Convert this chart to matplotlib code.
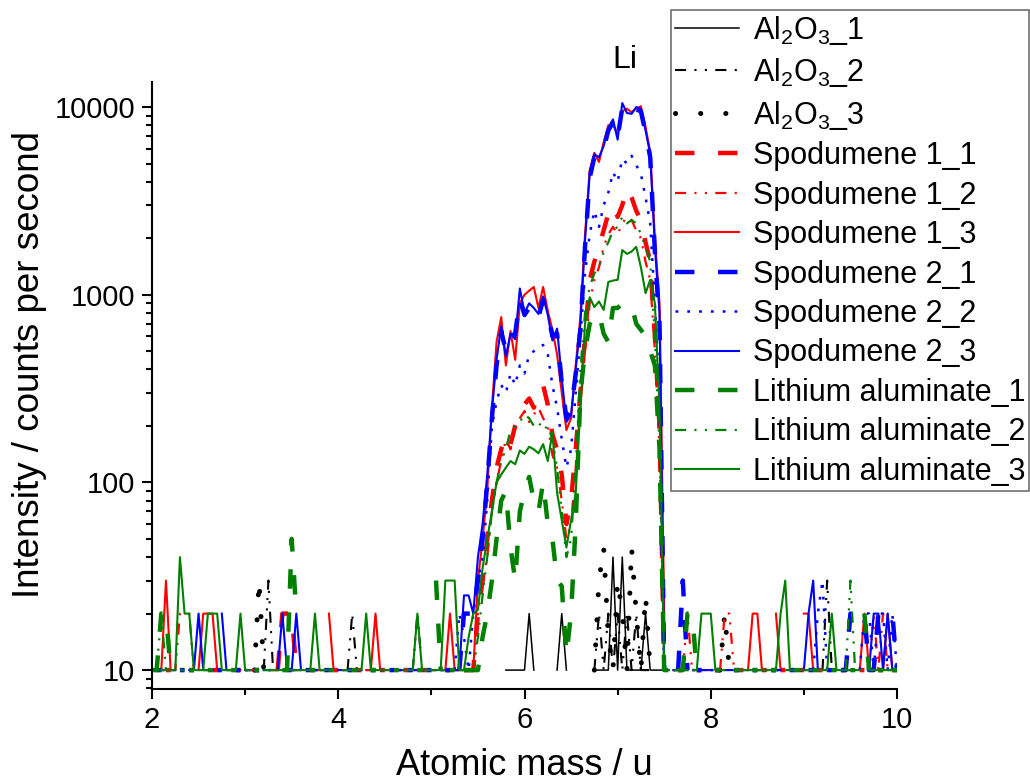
import numpy as np
import matplotlib
matplotlib.use("Agg")
import matplotlib.pyplot as plt
from matplotlib.ticker import FixedLocator, MultipleLocator, LogLocator, NullFormatter

plt.rcParams['font.family'] = ['Liberation Sans', 'DejaVu Sans']
plt.rcParams['mathtext.fontset'] = 'custom'
plt.rcParams['mathtext.rm'] = 'Liberation Sans'
plt.rcParams['mathtext.default'] = 'regular'
plt.rcParams['lines.scale_dashes'] = False

# mass axis, 0.05 u steps from 2 to 10
mass = np.linspace(2, 10, 161)

# counts per second (0 = no counts, not drawn on log axis)
al2o3_1 = [
    0,0,10,0,0,0,0,0,0,0, 0,0,0,10,0,0,0,0,0,0,
    0,0,0,0,0,0,0,0,10,0, 0,0,0,0,0,0,0,0,0,0,
    0,0,0,0,0,10,0,0,0,0, 0,0,0,0,0,0,0,0,0,0,
    0,0,0,0,0,0,0,0,0,0, 0,0,0,0,0,0,10,10,10,10,
    10,20,10,0,0,0,0,10,20,10, 0,0,0,0,0,10,10,10,10,40,
    10,40,10,10,10,10,20,10,10,10, 10,10,0,0,0,0,0,0,0,0,
    0,0,0,0,0,0,0,0,0,0, 0,0,0,0,0,0,0,0,0,0,
    0,0,0,0,0,0,0,0,0,0, 0,0,0,0,0,0,0,0,0,0,0,
]
al2o3_2 = [
    0,0,0,0,0,0,0,0,0,0, 0,0,0,0,0,0,0,0,0,0,
    0,0,0,0,10,30,10,0,0,0, 0,0,0,0,0,0,0,0,0,0,
    0,0,10,20,10,0,0,0,0,0, 0,0,0,0,0,0,10,20,10,0,
    0,0,0,0,0,0,0,0,0,0, 0,0,0,0,0,0,0,0,0,0,
    0,0,0,0,0,0,0,0,0,0, 0,0,0,0,0,10,20,10,20,10,
    20,10,20,10,20,10,10,10,10,0, 0,0,0,0,0,0,0,0,0,0,
    0,0,0,0,0,0,0,0,0,0, 0,0,0,0,0,0,0,0,0,0,
    0,0,0,0,10,30,10,0,0,0, 0,0,0,0,0,0,0,0,0,0,0,
]
al2o3_3 = [
    0,0,0,0,0,0,0,0,0,0, 0,0,0,0,0,0,0,0,0,0,
    0,0,10,30,10,0,0,0,0,0, 0,0,0,0,0,0,0,0,0,0,
    0,0,0,0,0,0,0,0,0,0, 0,0,0,0,0,0,0,0,0,0,
    0,0,0,0,0,0,0,0,0,0, 0,0,0,0,0,0,0,0,0,0,
    0,0,0,0,0,0,0,0,0,0, 0,0,0,0,0,10,30,45,15,10,
    30,20,10,45,20,10,25,10,0,0, 0,0,0,0,0,0,0,0,0,0,
    0,0,10,20,10,0,0,0,0,0, 0,0,0,0,0,0,0,0,0,0,
    0,0,0,0,0,0,0,0,0,0, 0,0,0,0,0,0,0,0,0,0,0,
]
spod1_1 = [
    10,0,0,10,10,0,0,0,10,10, 0,0,0,10,10,0,0,0,10,10,
    0,0,10,10,0,0,0,10,20,20, 20,10,0,0,10,10,0,0,0,10,
    10,0,0,0,10,10,0,0,0,10, 10,0,0,0,10,10,0,0,10,10,
    0,0,0,10,10,0,0,10, 10,10,20,30,50,80,120,150,180,160,200,230,
    260,280,250,300,330,260,180,150,110,60, 80,150,300,600,1200,1500,1800,2200,2700,3000,
    2600,3000,3700,3300,2800,2500,1900,1500,600,200, 10,0,0,10,10,0,0,10,10,0,
    0,10,10,0,0,0,10,10,0,0, 0,10,10,0,0,10,10,0,0,10,
    10,0,0,10,10,0,0,0,10,10, 0,0,10,10,0,0,10,10,0,10,10,
]
spod1_2 = [
    0,10,10,0,10,10,20,20,20,10, 0,0,10,10,0,0,0,10,10,0,
    0,10,10,0,0,0,10,10,0,0, 0,10,10,0,0,0,10,10,0,0,
    0,10,10,0,0,0,10,10,0,0, 0,10,10,0,0,0,10,10,0,0,
    10,10,0,0,0,10,10,0, 10,10,20,30,40,70,100,130,170,150,200,220,
    240,210,230,250,220,200,140,120,80,50, 60,120,250,500,900,1200,1400,1800,2100,2300,
    2100,2400,2600,2500,2200,2000,1500,1200,500,150, 10,10,0,10,10,20,10,0,0,0,
    0,0,10,20,20,10,0,0,0,0, 10,10,0,0,0,10,10,0,0,0,
    10,10,0,0,0,10,10,0,0,0, 10,10,0,0,10,20,10,20,10,0,0,
]
spod1_3 = [
    10,10,10,30,10,0,0,10,0,0, 10,20,20,20,10,10,0,0,10,10,
    0,10,10,0,0,0,10,10,0,0, 10,10,0,0,0,10,10,0,20,10,
    0,0,10,10,0,0,10,10,20,10, 10,10,0,0,0,10,10,0,0,10,
    10,0,10,10,20,10,10,10, 10,10,30,50,90,250,560,760,420,640,450,900,
    1000,1050,1100,850,1100,820,650,480,300,190, 220,420,760,2100,4600,5700,5100,6500,8000,8000,
    7200,9500,9800,9400,9800,10100,7800,5800,2000,900, 20,0,10,10,10,0,0,10,10,10,
    0,10,10,0,0,10,10,0,10,20, 20,10,10,0,20,10,0,10,10,0,
    20,20,10,10,0,10,10,0,10,10, 0,0,10,20,10,10,0,10,20,10,10,
]
spod2_1 = [
    0,10,10,0,0,0,10,10,0,0, 10,0,0,0,10,10,0,0,10,10,
    0,0,10,10,0,0,10,0,0,10, 10,0,0,10,10,0,0,10,10,0,
    0,0,10,10,0,0,0,10,10,0, 0,10,10,0,0,10,10,0,0,10,
    10,0,0,10,10,0,10,20, 20,20,30,50,100,220,420,640,500,600,620,950,
    780,850,880,760,940,800,600,620,340,220, 240,380,650,1800,4200,5400,5300,6000,7500,8300,
    6900,9900,9000,9300,9700,9500,7300,5400,1700,700, 10,0,0,10,30,10,0,10,10,0,
    0,10,10,0,0,10,10,0,0,10, 10,0,0,10,10,0,0,10,10,0,
    0,10,10,0,0,10,10,0,10,10, 20,20,20,20,10,10,20,20,20,20,10,
]
spod2_2 = [
    0,0,10,10,0,0,0,0,10,10, 0,0,10,10,0,0,0,10,0,0,
    10,10,0,0,0,10,10,0,0,0, 10,10,0,0,0,10,10,0,0,0,
    10,0,0,0,10,10,0,0,0,10, 10,0,0,10,10,0,0,0,10,10,
    0,0,10,10,0,10,20,15, 10,20,30,40,80,200,270,330,300,380,330,420,
    380,480,500,530,540,480,330,250,170,120, 150,300,600,1300,2100,2800,2300,3000,3500,4500,
    4000,5300,5000,5500,4900,4400,3300,2400,900,300, 10,0,10,10,0,0,10,10,0,0,
    10,10,0,0,0,10,10,0,0,10, 10,0,0,0,10,10,0,0,0,10,
    10,0,10,20,30,10,0,0,10,10, 10,0,10,20,20,10,20,20,10,20,10,
]
spod2_3 = [
    10,10,0,0,10,10,0,0,10,10, 20,10,10,10,0,20,10,10,0,0,
    10,10,0,0,10,10,0,10,20,10, 10,20,10,0,10,10,0,0,10,0,
    10,10,0,0,10,10,0,10,10,0, 10,0,0,10,10,0,10,10,0,0,
    10,10,0,10,10,10,10,25, 25,20,40,60,110,240,450,680,470,620,580,1080,
    800,900,850,790,980,780,570,660,360,210, 230,400,700,1950,4400,5600,5400,6200,7700,8600,
    6700,10500,9300,9200,10000,9800,7500,5600,1800,800, 10,0,10,10,10,10,0,0,10,10,
    10,0,0,10,10,10,0,10,10,0, 10,10,10,0,10,10,0,10,10,10,
    10,20,30,10,0,10,10,0,10,10, 10,10,0,0,10,20,20,10,20,10,10,
]
lial_1 = [
    10,10,20,20,10,0,0,0,10,10, 0,0,10,10,0,0,0,10,10,0,
    0,0,10,10,0,0,0,0,10,10, 50,20,0,0,10,10,0,0,10,10,
    0,0,0,10,10,0,0,10,10,0, 0,0,10,10,0,0,0,10,10,0,
    0,30,10,0,10,10,0,10, 10,10,10,15,20,30,50,80,90,45,30,70,
    90,107,80,70,100,60,50,30,28,12, 20,60,300,500,700,780,800,620,560,850,
    850,900,900,880,700,650,600,500,420,150, 10,10,0,10,10,20,20,10,0,10,
    0,10,10,0,0,10,10,0,0,10, 10,0,0,10,10,0,0,0,10,10,
    0,0,10,10,0,0,10,10,0,0, 10,10,0,20,10,0,10,10,0,10,10,
]
lial_2 = [
    0,10,20,10,0,0,10,10,0,0, 0,10,10,0,0,0,10,10,0,0,
    10,10,0,0,0,10,10,0,0,0, 10,10,0,0,0,0,10,10,0,0,
    0,10,10,0,0,0,0,10,10,0, 0,0,10,10,0,0,0,10,10,0,
    0,0,10,10,0,0,10,10, 10,10,15,25,40,70,100,130,150,190,200,210,
    230,220,200,210,190,200,170,120,70,40, 50,120,400,800,1100,1300,1400,1700,1900,2200,
    2300,2600,2400,2500,2400,2100,1800,1500,600,150, 10,0,10,10,0,0,10,10,0,0,
    0,10,10,0,0,0,10,10,0,0, 0,10,10,0,0,0,10,10,0,0,
    0,10,10,0,0,0,10,10,0,10, 30,10,0,0,10,10,0,0,10,10,0,
]
lial_3 = [
    10,10,10,10,10,10,40,20,20,10, 10,10,20,20,20,10,10,10,10,20,
    10,10,0,0,10,10,10,10,10,10, 10,10,10,10,10,20,10,10,10,0,
    0,10,10,10,10,10,20,10,10,10, 10,10,0,0,10,10,10,20,10,10,
    10,10,10,30,30,30,10,10, 15,20,21,35,50,70,100,110,120,130,125,148,
    142,155,150,143,160,130,185,88,63,45, 63,88,250,700,970,860,920,830,1170,1190,
    1200,1730,1650,1700,1800,1400,1020,1200,900,250, 10,10,0,10,10,10,0,10,20,20,
    20,10,10,10,0,10,10,10,10,10, 10,10,10,10,10,20,30,10,10,10,
    10,10,0,10,10,10,20,10,10,10, 10,10,10,0,10,10,10,10,10,10,10,
]

labels = ['Al$_2$O$_3$_1', 'Al$_2$O$_3$_2', 'Al$_2$O$_3$_3',
          'Spodumene 1_1', 'Spodumene 1_2', 'Spodumene 1_3',
          'Spodumene 2_1', 'Spodumene 2_2', 'Spodumene 2_3',
          'Lithium aluminate_1', 'Lithium aluminate_2', 'Lithium aluminate_3']
series = [al2o3_1, al2o3_2, al2o3_3, spod1_1, spod1_2, spod1_3,
          spod2_1, spod2_2, spod2_3, lial_1, lial_2, lial_3]
colors = ['black'] * 3 + ['#ff0000'] * 3 + ['#0000ff'] * 3 + ['#008000'] * 3

dashed = (0, (14, 17))
dashdotdot = (0, (8, 6, 1.5, 6, 1.5, 6))
styles = [
    ('-', 1.1, 'butt'), (dashdotdot, 1.5, 'butt'), ((0, (0.1, 18)), 3.6, 'round'),
    (dashed, 3.2, 'butt'), (dashdotdot, 1.6, 'butt'), ('-', 1.5, 'butt'),
    (dashed, 3.2, 'butt'), ((0, (2, 6.5)), 1.8, 'butt'), ('-', 1.5, 'butt'),
    (dashed, 3.2, 'butt'), (dashdotdot, 1.6, 'butt'), ('-', 1.5, 'butt'),
]

fig = plt.figure(figsize=(10.3, 7.82), dpi=100)
ax = fig.add_axes([152/1030, 1 - 689/782, (897-152)/1030, (689-82)/782])
ax.set_yscale('log', nonpositive='mask')

for y, lab, c, (ls, lw, cap) in zip(series, labels, colors, styles):
    ax.plot(mass, y, color=c, linestyle=ls, lw=lw, label=lab, dash_capstyle=cap)

ax.set_xlim(2, 10)
ax.set_ylim(7.93, 13600)

for s in ['top', 'right']:
    ax.spines[s].set_visible(False)
for s in ['left', 'bottom']:
    ax.spines[s].set_linewidth(1.5)

ax.xaxis.set_major_locator(FixedLocator([2, 4, 6, 8, 10]))
ax.xaxis.set_minor_locator(MultipleLocator(1))
ax.set_yticks([10, 100, 1000, 10000])
ax.set_yticklabels(['10', '100', '1000', '10000'])
ax.yaxis.set_minor_locator(LogLocator(base=10, subs=range(2, 10), numticks=20))
ax.yaxis.set_minor_formatter(NullFormatter())

ax.tick_params(which='both', direction='out', width=1.5, labelsize=21, pad=5)
ax.tick_params(which='major', length=7)
ax.tick_params(which='minor', length=4)

ax.set_xlabel('Atomic mass / u', fontsize=26, labelpad=10)
ax.set_ylabel('Intensity / counts per second', fontsize=26.5)
ax.yaxis.set_label_coords(-0.141, 0.535)

ax.text(7.08, 17800, 'Li', ha='center', va='center', fontsize=23, clip_on=False)

leg = ax.legend(loc='upper left', bbox_to_anchor=(671/1030, 1 - 10/782),
                bbox_transform=fig.transFigure, fontsize=22, fancybox=False,
                edgecolor='#707070', framealpha=1, borderpad=0.12,
                labelspacing=0.31, handlelength=2.1, handletextpad=0.45,
                borderaxespad=0)
leg.get_frame().set_linewidth(1.2)

fig.savefig('out.png', dpi=100)
